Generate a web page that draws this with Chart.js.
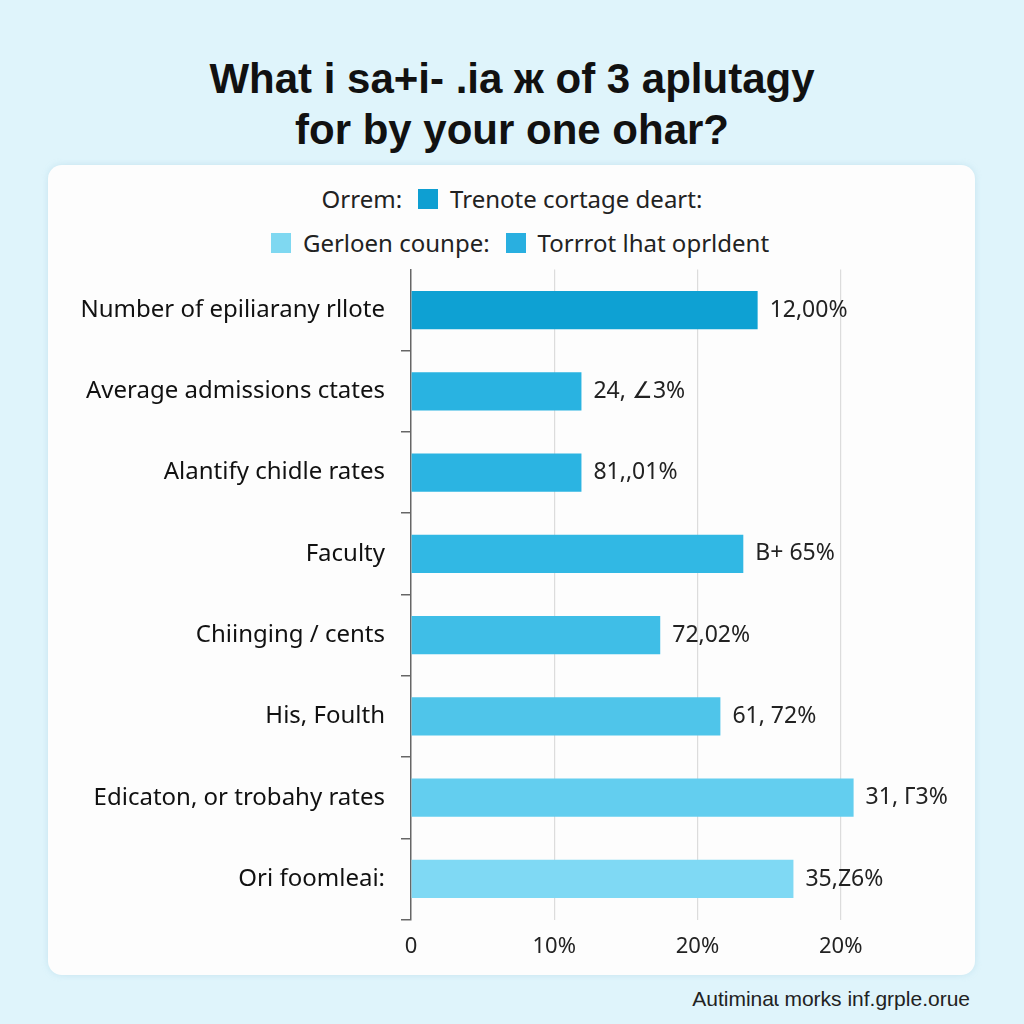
<!DOCTYPE html>
<html>
<head>
<meta charset="utf-8">
<script src="https://cdn.jsdelivr.net/npm/chart.js@4/dist/chart.umd.min.js"></script>
<style>
  html, body { margin: 0; padding: 0; }
  body { width: 1024px; height: 1024px; background: #dff4fb; position: relative; overflow: hidden; font-family: "Liberation Sans", Arial, sans-serif; }
  #title { position: absolute; left: 0; top: 53px; width: 1024px; text-align: center; font-weight: bold; font-size: 42px; line-height: 51px; color: #111; }
  #card { position: absolute; left: 48px; top: 165px; width: 927px; height: 810px; background: #fdfdfd; border-radius: 14px; box-shadow: 0 0 6px rgba(150,200,220,0.35); }
  .legrow { position: absolute; left: 0; width: 1024px; text-align: center; font-family: "Noto Sans", sans-serif; font-size: 24px; color: #222; }
  .legrow span { display: inline-block; vertical-align: middle; }
  .sw { width: 20px; height: 20px; margin: 0 12px 0 16px; }
  #wrap { position: absolute; left: 48px; top: 239px; width: 927px; height: 735px; }
  #footer { position: absolute; right: 54px; top: 987px; font-size: 21px; color: #222; }
</style>
</head>
<body>
<div id="title"></div>
<div id="card"></div>
<div id="leg1" class="legrow" style="top:179px"></div>
<div id="leg2" class="legrow" style="top:223px"></div>
<div id="wrap"><canvas id="c" width="927" height="735"></canvas></div>
<div id="footer"></div>
<script>
const titleLines = ["What i sa+i- .ia ж of 3 aplutagy", "for by your one ohar?"];
const categories = [
  "Number of epiliarany rllote",
  "Average admissions ctates",
  "Alantify chidle rates",
  "Faculty",
  "Chiinging / cents",
  "His, Foulth",
  "Edicaton, or trobahy rates",
  "Ori foomleai:"
];
const values = [24.2, 11.9, 11.9, 23.2, 17.4, 21.6, 30.9, 26.7];
const valueLabels = ["12,00%", "24, ∠3%", "81,,01%", "B+ 65%", "72,02%", "61, 72%", "31, Γ3%", "35,Z6%"];
const barColors = ["#0ea1d3", "#29b3e1", "#2bb4e2", "#31b8e4", "#3fbee7", "#4fc5ea", "#63ceef", "#7fd9f4"];
const xTickValues = [0, 10, 20, 30];
const xTickLabels = ["0", "10%", "20%", "20%"];
const legendRow1 = [{prefix: "Orrem:", color: "#0e9fd2", label: "Trenote cortage deart:"}];
const legendRow2 = [
  {prefix: "", color: "#7fd8f1", label: "Gerloen counpe:"},
  {prefix: "", color: "#29afe0", label: "Torrrot lhat oprldent"}
];
const footerText = "Autiminaɩ morks inf.grple.orue";

document.getElementById("title").innerHTML = titleLines.join("<br>");
document.getElementById("footer").textContent = footerText;
function buildLegend(el, items) {
  items.forEach(it => {
    if (it.prefix) { const p = document.createElement("span"); p.textContent = it.prefix; el.appendChild(p); }
    const s = document.createElement("span"); s.className = "sw"; s.style.background = it.color; el.appendChild(s);
    const t = document.createElement("span"); t.textContent = it.label; el.appendChild(t);
  });
}
buildLegend(document.getElementById("leg1"), legendRow1);
buildLegend(document.getElementById("leg2"), legendRow2);

const valueLabelPlugin = {
  id: "valueLabels",
  afterDatasetsDraw(chart) {
    const ctx = chart.ctx;
    const meta = chart.getDatasetMeta(0);
    ctx.save();
    ctx.font = '23px "Noto Sans", sans-serif';
    ctx.fillStyle = "#222";
    ctx.textAlign = "left";
    ctx.textBaseline = "middle";
    meta.data.forEach((bar, i) => {
      ctx.fillText(valueLabels[i], bar.x + 12, bar.y);
    });
    ctx.restore();
  }
};

new Chart(document.getElementById("c"), {
  type: "bar",
  data: {
    labels: categories,
    datasets: [{
      data: values,
      backgroundColor: barColors,
      borderWidth: 0,
      barPercentage: 0.47,
      categoryPercentage: 1
    }]
  },
  options: {
    indexAxis: "y",
    responsive: false,
    animation: false,
    layout: { padding: { top: 8, right: 77, bottom: 0, left: 0 } },
    plugins: { legend: { display: false }, tooltip: { enabled: false } },
    scales: {
      x: {
        min: 0,
        max: 34,
        afterBuildTicks(scale) { scale.ticks = xTickValues.map(v => ({ value: v })); },
        grid: {
          drawTicks: false,
          color: ctx => (ctx.tick && ctx.tick.value === 0) ? "rgba(0,0,0,0)" : "#dcdcdc",
          lineWidth: 1.2
        },
        border: { display: false },
        ticks: {
          padding: 14,
          color: "#222",
          font: { family: "Noto Sans", size: 22 },
          callback: (v, i) => xTickLabels[i]
        }
      },
      y: {
        afterFit(scale) { scale.width = 363; },
        grid: {
          drawOnChartArea: false,
          drawTicks: true,
          tickLength: 10,
          color: ctx => (ctx.index === 0 || ctx.index >= categories.length) ? "rgba(0,0,0,0)" : "#666",
          lineWidth: 1.5
        },
        border: { display: true, color: "#666", width: 1.5 },
        ticks: {
          padding: 16,
          color: "#111",
          font: { family: "Noto Sans", size: 24 }
        }
      }
    }
  },
  plugins: [valueLabelPlugin]
});
</script>
</body>
</html>
